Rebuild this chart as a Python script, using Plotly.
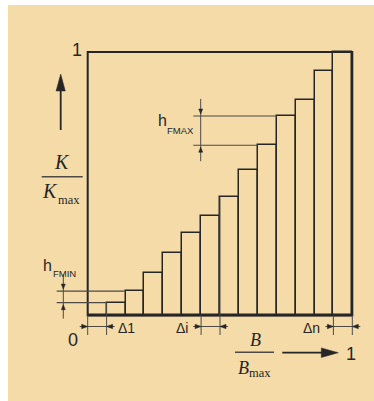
import plotly.graph_objects as go

# Stepped load curve: relative load K/Kmax held constant over each of the
# equal-width sections Δ1 … Δn of the relative range B/Bmax.
section_names = ["Δ1", "Δ2", "Δ3", "Δ4", "Δ5", "Δ6", "Δi", "Δ8", "Δ9", "Δ10",
                 "Δ11", "Δ12", "Δ13", "Δn"]
k_levels = [0.0, 0.048, 0.092, 0.162, 0.235, 0.311, 0.378, 0.448,
            0.551, 0.646, 0.757, 0.819, 0.928, 1.0]
axis_ticks = ["0", "1"]
dimensioned_sections = ["Δ1", "Δi", "Δn"]
h_min_pair = (1, 2)    # sections whose level step is marked h_FMIN
h_max_pair = (9, 10)   # sections whose level step is marked h_FMAX

W, H = 374, 401
INK = "#262626"
SOFT = "#4d4a45"
BG = "#f5dba8"
SANS = "Liberation Sans, Arial, sans-serif"
SERIF = "Liberation Serif, Times New Roman, serif"

# pixel frame of the unit square
PX0, PX1 = 87.7, 352.3
PY0, PY1 = 315.3, 52.0
sx = PX1 - PX0
sy = PY0 - PY1


def dx(px):
    return (px - PX0) / sx


def dy(py):
    return (PY0 - py) / sy


n = len(k_levels)
bw = 1.0 / n
edges = [i * bw for i in range(n + 1)]
centers = [(i + 0.5) * bw for i in range(n)]

fig = go.Figure()
fig.add_trace(go.Bar(
    x=centers, y=k_levels, width=bw,
    marker=dict(color="rgba(0,0,0,0)", line=dict(color=INK, width=1.5)),
    hoverinfo="skip", showlegend=False,
))

shapes = []
annotations = []


def line(x0, y0, x1, y1, color=INK, width=1.0):
    shapes.append(dict(type="line", xref="x", yref="y", x0=x0, y0=y0,
                       x1=x1, y1=y1, line=dict(color=color, width=width)))


def tri(tip_px, dir_, length, half):
    # filled arrowhead in pixel units, converted to data space
    tx, ty = tip_px
    if dir_ == "right":
        pts = [(tx, ty), (tx - length, ty - half), (tx - length, ty + half)]
    elif dir_ == "left":
        pts = [(tx, ty), (tx + length, ty - half), (tx + length, ty + half)]
    elif dir_ == "up":
        pts = [(tx, ty), (tx - half, ty + length), (tx + half, ty + length)]
    else:
        pts = [(tx, ty), (tx - half, ty - length), (tx + half, ty - length)]
    path = "M " + " L ".join(f"{dx(a):.5f},{dy(b):.5f}" for a, b in pts) + " Z"
    shapes.append(dict(type="path", xref="x", yref="y", path=path,
                       fillcolor=INK, line=dict(color=INK, width=0.5)))


def text(s, px, py, size, family=SANS, anchor="center"):
    annotations.append(dict(text=s, x=dx(px), y=dy(py), xref="x", yref="y",
                            showarrow=False, xanchor=anchor, yanchor="middle",
                            font=dict(size=size, family=family, color=INK)))


# background panel
shapes.append(dict(type="rect", xref="paper", yref="paper", x0=8 / W, x1=1,
                   y0=0, y1=1 - 5 / H, fillcolor=BG, line=dict(width=0),
                   layer="below"))

# outer frame of the unit square
shapes.append(dict(type="rect", xref="x", yref="y", x0=0, y0=0, x1=1, y1=1,
                   line=dict(color=INK, width=2)))
line(0, 0, 1, 0, width=2.5)

# section width dimensions
dim_y = dy(326.5)
ext_bottom = dy(335)
for name in dimensioned_sections:
    i = section_names.index(name)
    a, b = edges[i], edges[i + 1]
    line(a, 0, a, ext_bottom, color=SOFT, width=1)
    line(b, k_levels[i + 1] if i + 1 < n else 0, b, ext_bottom, color=SOFT, width=1)
    pa, pb = PX0 + a * sx, PX0 + b * sx
    line(dx(pa - 8), dim_y, dx(pb + 8), dim_y, color=SOFT, width=1)
    tri((pa, 326.5), "right", 6, 2.2)
    tri((pb, 326.5), "left", 6, 2.2)
    if i == 0:
        text(name, pb + 9, 327.5, 14, anchor="left")
    else:
        text(name, pa - 11.5, 327.5, 14, anchor="right")


# level step dimensions
def step_dim(pair, x_start_px, x_dim_px, label_xy, sub_xy, sub):
    lo, hi = pair
    y_lo, y_hi = k_levels[lo], k_levels[hi]
    line(dx(x_start_px), y_lo, edges[lo], y_lo, color=SOFT, width=1.1)
    line(dx(x_start_px), y_hi, edges[hi], y_hi, color=SOFT, width=1.1)
    py_lo, py_hi = PY0 - y_lo * sy, PY0 - y_hi * sy
    line(dx(x_dim_px), dy(py_hi - 17), dx(x_dim_px), dy(py_lo + 16), color=SOFT, width=1)
    tri((x_dim_px, py_hi - 2), "down", 5, 2)
    tri((x_dim_px, py_lo + 2), "up", 5, 2)
    text("h", label_xy[0], label_xy[1], 16)
    text(sub, sub_xy[0], sub_xy[1], 9.5)


step_dim(h_min_pair, 56.7, 63.3, (47.2, 265.5), (64.3, 273.5), "FMIN")
step_dim(h_max_pair, 193.3, 200.7, (162.5, 120.5), (180.8, 130.5), "FMAX")

# axis values
text(axis_ticks[1], 76.7, 50, 18)
text(axis_ticks[0], 72.7, 339.5, 18)
text(axis_ticks[1], 351.3, 353.5, 18)

# vertical axis caption with arrow
line(dx(60.7), dy(130), dx(60.7), dy(88), width=1.8)
tri((60.7, 74), "up", 17, 4.6)
text("<i>K</i>", 62, 162, 20, family=SERIF)
line(dx(41.7), dy(176.7), dx(82.7), dy(176.7), color=SOFT, width=1.5)
text("<i>K</i>", 50.3, 191, 20, family=SERIF)
text("max", 68.8, 199.5, 12.5, family=SERIF)

# horizontal axis caption with arrow
line(dx(282.3), dy(352.7), dx(324), dy(352.7), width=1.8)
tri((338.3, 352.7), "right", 17, 4.8)
text("<i>B</i>", 255, 339.5, 18, family=SERIF)
line(dx(235), dy(352.3), dx(274), dy(352.3), color=SOFT, width=1.5)
text("<i>B</i>", 243.8, 368, 18, family=SERIF)
text("max", 260, 372.5, 12.5, family=SERIF)

fig.update_layout(
    width=W, height=H,
    margin=dict(l=0, r=0, t=0, b=0),
    paper_bgcolor="white", plot_bgcolor="rgba(0,0,0,0)",
    xaxis=dict(range=[-PX0 / sx, 1 + (W - PX1) / sx], visible=False,
               fixedrange=True),
    yaxis=dict(range=[-(H - PY0) / sy, 1 + PY1 / sy], visible=False,
               fixedrange=True),
    shapes=shapes, annotations=annotations,
    bargap=0, showlegend=False,
)

fig.write_html("out.html")
